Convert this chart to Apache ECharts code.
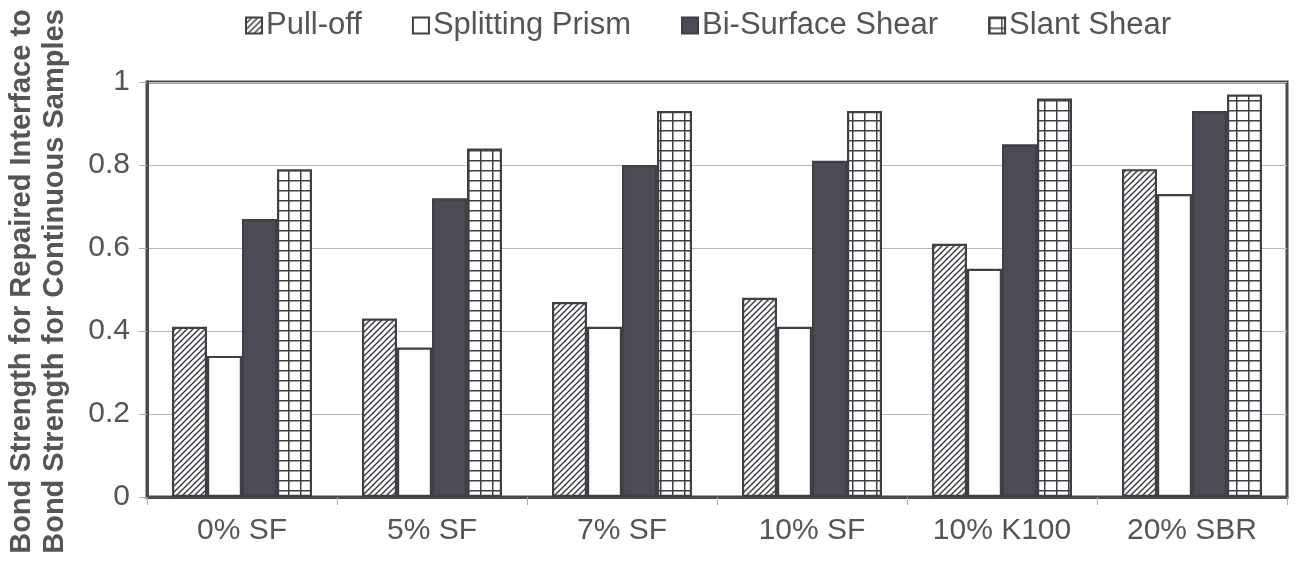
<!DOCTYPE html>
<html>
<head>
<meta charset="utf-8">
<script src="https://cdn.jsdelivr.net/npm/echarts@6/dist/echarts.min.js"></script>
<style>
html,body{margin:0;padding:0;background:#fff;}
#chart{width:1296px;height:562px;}
</style>
</head>
<body>
<div id="chart"></div>
<script>
var categories = ['0% SF', '5% SF', '7% SF', '10% SF', '10% K100', '20% SBR'];
var pullOff = [0.41, 0.43, 0.47, 0.48, 0.61, 0.79];
var splittingPrism = [0.34, 0.36, 0.41, 0.41, 0.55, 0.73];
var biSurfaceShear = [0.67, 0.72, 0.80, 0.81, 0.85, 0.93];
var slantShear = [0.79, 0.84, 0.93, 0.93, 0.96, 0.97];
var yTicks = [0, 0.2, 0.4, 0.6, 0.8, 1];

var INK = '#3f3f46';
var TXT = '#555558';
var FONT = 'Liberation Sans, Arial, sans-serif';

function hatchPattern() {
  var c = document.createElement('canvas');
  c.width = 6; c.height = 6;
  var g = c.getContext('2d');
  g.fillStyle = '#fff'; g.fillRect(0, 0, 6, 6);
  g.strokeStyle = INK; g.lineWidth = 1.5;
  g.beginPath();
  g.moveTo(-1, 7); g.lineTo(7, -1);
  g.moveTo(-1, 1); g.lineTo(1, -1);
  g.moveTo(5, 7); g.lineTo(7, 5);
  g.stroke();
  return { image: c, repeat: 'repeat' };
}
function gridPattern() {
  var c = document.createElement('canvas');
  c.width = 12; c.height = 10;
  var g = c.getContext('2d');
  g.fillStyle = '#fff'; g.fillRect(0, 0, 12, 10);
  g.fillStyle = INK;
  g.fillRect(0, 0, 12, 1.5);
  g.fillRect(0, 0, 1.5, 10);
  return { image: c, repeat: 'repeat' };
}

var chart = echarts.init(document.getElementById('chart'));

function mkSeries(name, data, color) {
  return { type: 'bar', name: name, data: data, barWidth: 35, barGap: '0%',
    itemStyle: { color: color, borderColor: INK, borderWidth: 2.2 } };
}

chart.setOption({
  animation: false,
  backgroundColor: '#fff',
  legend: {
    top: 5, left: 240,
    icon: 'rect',
    itemWidth: 16, itemHeight: 16, itemGap: 50,
    textStyle: { fontFamily: FONT, fontSize: 31, color: TXT, padding: [0, 0, 0, -1] },
    data: ['Pull-off', 'Splitting Prism', 'Bi-Surface Shear', 'Slant Shear']
  },
  grid: { left: 147, right: 9, top: 82, bottom: 65, containLabel: false, outerBoundsMode: 'none',
    show: true, borderColor: '#4a4a50', borderWidth: 3, backgroundColor: 'transparent' },
  xAxis: {
    type: 'category', data: categories,
    axisLine: { lineStyle: { color: '#4a4a50', width: 3 } },
    axisTick: { show: true, length: 8, lineStyle: { color: '#aaa', width: 1 } },
    axisLabel: { fontFamily: FONT, fontSize: 30, color: TXT, margin: 19 },
    splitLine: { show: false }
  },
  yAxis: {
    type: 'value', min: 0, max: 1, interval: 0.2,
    name: 'Bond Strength for Repaired Interface to\nBond Strength for Continuous Samples',
    nameLocation: 'middle', nameRotate: 90, nameGap: 76,
    nameTextStyle: { fontFamily: FONT, fontSize: 29, fontWeight: 'bold', color: TXT, lineHeight: 33, padding: [0, 0, 0, 16] },
    axisLine: { show: true, lineStyle: { color: '#4a4a50', width: 3 } },
    axisTick: { show: true, length: 8, lineStyle: { color: '#aaa', width: 1 } },
    axisLabel: { fontFamily: FONT, fontSize: 30, color: TXT, margin: 17,
      formatter: function (v) { var r = Math.round(v * 10) / 10; return yTicks.indexOf(r) >= 0 ? String(r) : ''; } },
    splitLine: { show: true, lineStyle: { color: '#b8b8b8', width: 1 } }
  },
  series: [
    mkSeries('Pull-off', pullOff, hatchPattern()),
    mkSeries('Splitting Prism', splittingPrism, '#ffffff'),
    mkSeries('Bi-Surface Shear', biSurfaceShear, '#4b4b53'),
    mkSeries('Slant Shear', slantShear, gridPattern())
  ]
});
</script>
</body>
</html>
